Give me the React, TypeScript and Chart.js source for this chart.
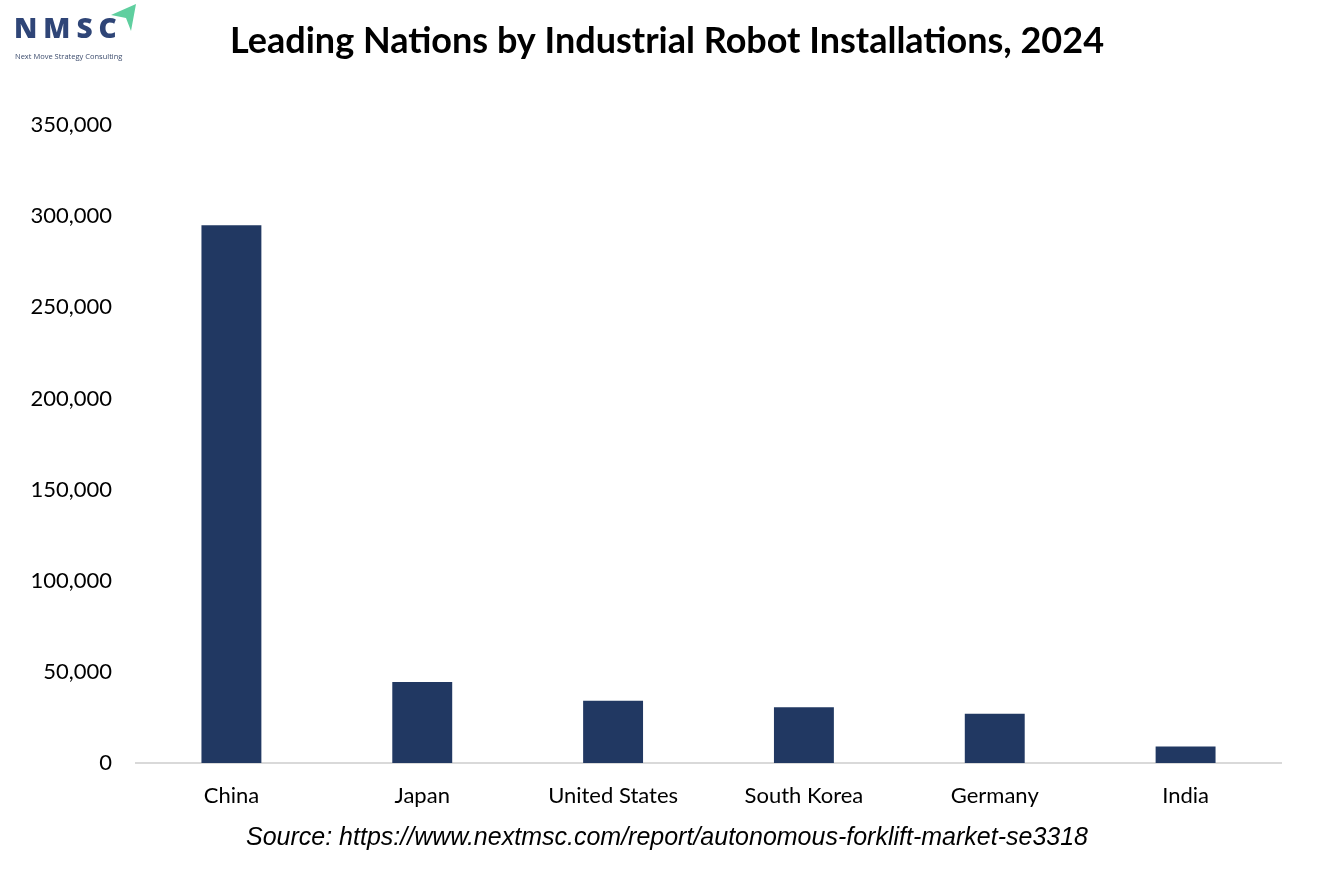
import React, { useEffect, useRef } from "react";
import { Chart, registerables } from "chart.js";

Chart.register(...registerables);

const categories = ["China", "Japan", "United States", "South Korea", "Germany", "India"];
const installations = [295000, 44500, 34200, 30600, 27000, 9100];
const yTicks = [0, 50000, 100000, 150000, 200000, 250000, 300000, 350000];

const TITLE = "Leading Nations by Industrial Robot Installations, 2024";
const SOURCE = "Source: https://www.nextmsc.com/report/autonomous-forklift-market-se3318";

export default function App() {
  const ref = useRef<HTMLCanvasElement | null>(null);

  useEffect(() => {
    if (!ref.current) return;
    const chart = new Chart(ref.current, {
      type: "bar",
      data: {
        labels: categories,
        datasets: [
          {
            label: "Installations",
            data: installations,
            backgroundColor: "#213862",
            categoryPercentage: 1,
            barPercentage: 0.314,
          },
        ],
      },
      options: {
        animation: false,
        responsive: false,
        maintainAspectRatio: false,
        layout: { padding: 0 },
        plugins: {
          legend: { display: false },
          tooltip: { enabled: false },
          title: {
            display: true,
            text: TITLE,
            color: "#000000",
            font: { family: "Lato", size: 36, weight: "bold", lineHeight: 1.2 },
            padding: { top: 20, bottom: 61.8 },
          },
          subtitle: {
            display: true,
            position: "bottom",
            text: SOURCE,
            color: "#000000",
            font: { family: "Liberation Sans", size: 25, style: "italic", lineHeight: 1.2 },
            padding: { top: 15, bottom: 36 },
          },
        },
        scales: {
          x: {
            grid: { display: false, drawTicks: false },
            border: { display: true, color: "#d9d9d9", width: 2 },
            ticks: {
              color: "#000000",
              font: { family: "Lato", size: 22, lineHeight: 1.2 },
              padding: 20,
              maxRotation: 0,
              autoSkip: false,
            },
            afterFit: (scale: any) => {
              scale.height = 45;
            },
          },
          y: {
            min: 0,
            max: 350000,
            grid: { display: false, drawTicks: false },
            border: { display: false },
            afterBuildTicks: (scale: any) => {
              scale.ticks = yTicks.map((v) => ({ value: v }));
            },
            ticks: {
              color: "#000000",
              font: { family: "Lato", size: 22, lineHeight: 1.2 },
              padding: 24,
              callback: (v: any) => Number(v).toLocaleString("en-US"),
            },
            afterFit: (scale: any) => {
              scale.width = 136;
            },
          },
          yRight: {
            position: "right",
            min: 0,
            max: 350000,
            grid: { display: false, drawTicks: false },
            border: { display: false },
            ticks: { display: false },
            afterFit: (scale: any) => {
              scale.width = 53;
            },
          },
        },
      },
    });
    return () => chart.destroy();
  }, []);

  return (
    <div
      style={{
        position: "absolute",
        left: 0,
        top: 0,
        width: 1334,
        height: 889,
        background: "#ffffff",
        overflow: "hidden",
      }}
    >
      <canvas ref={ref} width={1334} height={889} style={{ position: "absolute", left: 0, top: 0 }} />
      <div
        style={{
          position: "absolute",
          left: 0,
          top: 0,
          width: 150,
          height: 65,
          fontFamily: "'Open Sans', sans-serif",
          color: "#2f4577",
        }}
      >
        <svg width="26" height="28" viewBox="0 0 26 28" style={{ position: "absolute", left: 111, top: 4 }}>
          <polygon points="0,11 25,0 20,27 15,14" fill="#5fcf9f" />
        </svg>
        <div
          style={{
            position: "absolute",
            left: 14,
            top: 12,
            fontSize: 28,
            fontWeight: 800,
            letterSpacing: 6,
            lineHeight: "30px",
          }}
        >
          NMSC
        </div>
        <div
          style={{
            position: "absolute",
            left: 15,
            top: 51,
            fontSize: 7.5,
            lineHeight: "10px",
            whiteSpace: "nowrap",
            color: "#3d4d6e",
          }}
        >
          Next Move Strategy Consulting
        </div>
      </div>
    </div>
  );
}
